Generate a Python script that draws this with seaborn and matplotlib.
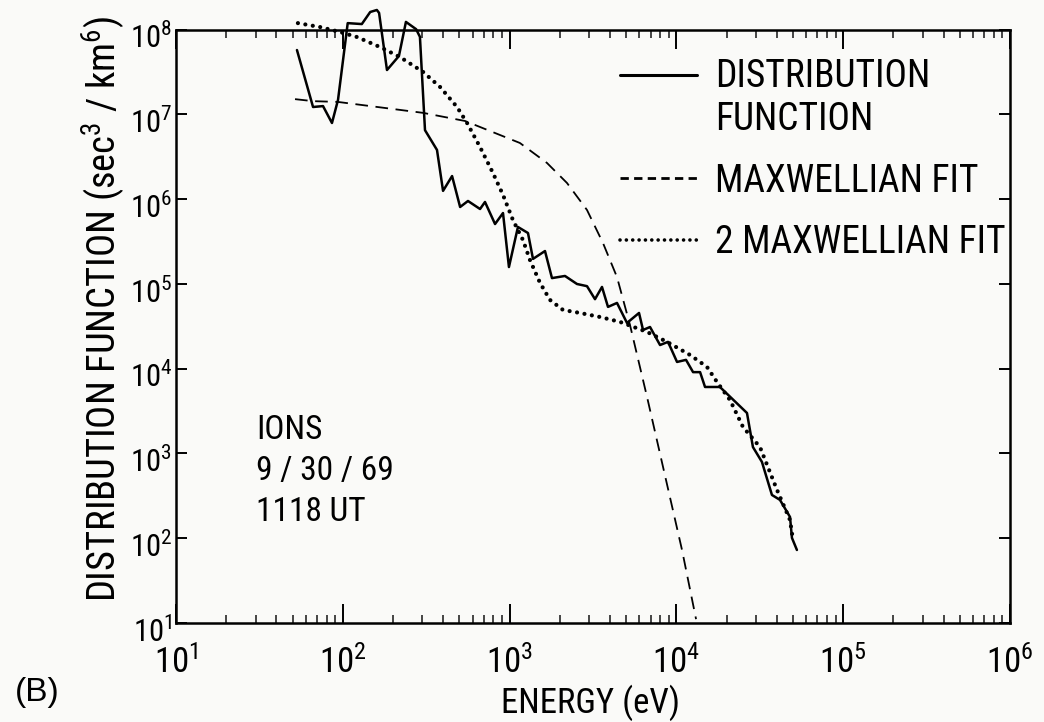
import numpy as np
import pandas as pd
import matplotlib
matplotlib.use('Agg')
import matplotlib.pyplot as plt
import matplotlib.transforms as mtransforms
from matplotlib import font_manager as fm
from matplotlib.lines import Line2D
from matplotlib.legend_handler import HandlerLine2D
from matplotlib.ticker import FixedLocator, NullLocator, LogFormatterMathtext
import seaborn as sns

# ---------------- data ----------------
dist_energy = [53.1, 66.3, 76.1, 86.1, 93.6, 107, 130, 146, 160, 165, 184, 217, 239, 275,
               290, 311, 367, 399, 452, 505, 563, 665, 712, 818, 913, 991, 1122, 1289,
               1381, 1630, 1795, 2148, 2535, 2911, 3251, 3581, 3890, 4405, 5057, 5970,
               6310, 6950, 7980, 8910, 10090, 11420, 12590, 13870, 14850, 18240, 26500,
               28770, 32580, 37400, 41800, 48000, 49300, 52800]
dist_value = [5.73e7, 1.22e7, 1.25e7, 7.9e6, 1.48e7, 1.19e8, 1.16e8, 1.61e8, 1.70e8, 1.57e8,
              3.33e7, 4.87e7, 1.23e8, 1.01e8, 8.2e7, 6.5e6, 3.8e6, 1.25e6, 1.87e6, 8.07e5,
              9.5e5, 7.64e5, 9.25e5, 5.08e5, 6.85e5, 1.58e5, 4.69e5, 3.98e5, 1.97e5, 2.44e5,
              1.17e5, 1.24e5, 9.97e4, 9.4e4, 6.6e4, 9.2e4, 5.35e4, 5.96e4, 3.46e4, 4.54e4,
              2.86e4, 3.1e4, 1.9e4, 2.07e4, 1.2e4, 1.27e4, 9.1e3, 9.1e3, 6.08e3, 6.08e3,
              3.0e3, 1.19e3, 794, 324, 283, 178, 101, 72.7]

maxw_energy = [51.7, 66.2, 93.5, 303, 541, 1153, 1675, 2208, 2911, 3631, 4406, 5271,
               6670, 8318, 10810, 13120]
maxw_value = [1.51e7, 1.43e7, 1.40e7, 1.04e7, 8.34e6, 4.59e6, 2.67e6, 1.55e6, 7.44e5,
              3.03e5, 1.2e5, 3.27e4, 4.63e3, 692, 72.6, 11.1]

two_maxw_energy = [53.8, 73.0, 96.2, 121.6, 167, 220, 303, 383, 484, 556, 665, 795, 913,
                   1047, 1202, 1325, 1521, 1746, 2089, 2642, 3483, 4592, 6670, 8790,
                   12080, 15250, 17510, 20960, 25080, 31700, 40100, 48000, 50000]
two_maxw_value = [1.19e8, 1.07e8, 9.35e7, 8.16e7, 6.22e7, 4.74e7, 3.16e7, 2.1e7, 1.22e7,
                  7.9e6, 4.11e6, 2.03e6, 1.12e6, 5.66e5, 3.3e5, 1.91e5, 1.03e5, 6.47e4,
                  4.93e4, 4.54e4, 4.07e4, 3.56e4, 2.71e4, 2.07e4, 1.45e4, 1.05e4, 6.97e3,
                  4.27e3, 2.05e3, 1.19e3, 372, 164, 95.5]

x_major_ticks = [1e1, 1e2, 1e3, 1e4, 1e5, 1e6]
y_major_ticks = [1e1, 1e2, 1e3, 1e4, 1e5, 1e6, 1e7, 1e8]
legend_labels = ["DISTRIBUTION\nFUNCTION", "MAXWELLIAN FIT", "2 MAXWELLIAN FIT"]
annotation = "IONS\n9 / 30 / 69\n1118 UT"
panel_label = "(B)"
x_label = "ENERGY (eV)"
y_label = r"DISTRIBUTION FUNCTION (sec$^{\mathdefault{3}}$ / km$^{\mathdefault{6}}$)"
x_limits = (1e1, 1e6)
y_limits = (1e1, 1e8)


# ---------------- pick a narrow sans font if one is installed ----------------
def pick_font():
    entries = fm.fontManager.ttflist
    names = {f.name for f in entries}
    for p in ['Liberation Sans Narrow', 'Roboto Condensed', 'DejaVu Sans Condensed',
              'Noto Sans Condensed', 'Open Sans Condensed', 'Arimo Narrow']:
        if p in names:
            return p, 'normal'
    for base in ['DejaVu Sans', 'Roboto', 'Noto Sans', 'Open Sans']:
        for f in entries:
            if (f.name == base and f.style == 'normal'
                    and str(f.stretch) in ('condensed', 'semi-condensed')
                    and f.weight in (400, 'normal', 'regular')):
                return base, str(f.stretch)
    for f in entries:
        if (('Condensed' in f.name or 'Narrow' in f.name) and 'Sans' in f.name
                and 'Mono' not in f.name and f.style == 'normal'):
            return f.name, 'normal'
    return 'DejaVu Sans', 'normal'


FAM, STRETCH = pick_font()

sns.set_theme(style='ticks')
plt.rcParams['font.family'] = [FAM, 'DejaVu Sans']
plt.rcParams['font.stretch'] = STRETCH
plt.rcParams['mathtext.fontset'] = 'dejavusans'
bg = '#fafaf8'

fig = plt.figure(figsize=(10.44, 7.22), dpi=100, facecolor=bg)
ax = fig.add_axes([0.1686, 0.1371, 0.7988, 0.822])
ax.set_facecolor(bg)
ax.set_xscale('log')
ax.set_yscale('log')

df_dist = pd.DataFrame({'energy': dist_energy, 'f': dist_value})
df_maxw = pd.DataFrame({'energy': maxw_energy, 'f': maxw_value})
df_two = pd.DataFrame({'energy': two_maxw_energy, 'f': two_maxw_value})

sns.lineplot(data=df_dist, x='energy', y='f', ax=ax, color='black', estimator=None,
             sort=False, linewidth=1.8)
l_dist = ax.lines[-1]
sns.lineplot(data=df_maxw, x='energy', y='f', ax=ax, color='black', estimator=None,
             sort=False, linewidth=1.3)
l_maxw = ax.lines[-1]
l_maxw.set_linestyle((0, (7.0, 4.2)))
sns.lineplot(data=df_two, x='energy', y='f', ax=ax, color='black', estimator=None,
             sort=False, linewidth=3.0)
l_two = ax.lines[-1]
l_two.set_linestyle((0, (0.01, 1.8)))
l_two.set_dash_capstyle('round')
for ln in (l_dist, l_maxw, l_two):
    ln.set_clip_on(False)

ax.set_xlim(*x_limits)
ax.set_ylim(*y_limits)

# ticks (only inside the plotted range)
x_minor_ticks = [m * t for t in x_major_ticks[:-1] for m in range(2, 10)]
ax.xaxis.set_major_locator(FixedLocator(x_major_ticks))
ax.xaxis.set_minor_locator(FixedLocator(x_minor_ticks))
ax.yaxis.set_major_locator(FixedLocator(y_major_ticks))
ax.yaxis.set_minor_locator(NullLocator())
ax.xaxis.set_major_formatter(LogFormatterMathtext())
ax.yaxis.set_major_formatter(LogFormatterMathtext())
ax.tick_params(axis='x', which='major', direction='in', top=True, bottom=True,
               length=14, width=1.4, labelsize=25, pad=16, colors='black')
ax.tick_params(axis='x', which='minor', direction='in', top=True, bottom=True,
               length=6, width=1.2)
ax.tick_params(axis='y', which='major', direction='in', left=True, right=True,
               length=8, width=1.4, labelsize=22, pad=3, colors='black')
for sp in ax.spines.values():
    sp.set_visible(True)
    sp.set_linewidth(1.8)
    sp.set_color('black')

xl = ax.set_xlabel(x_label, fontsize=25, color='black')
ax.xaxis.set_label_coords(0.497, -0.104)
yl = ax.set_ylabel(y_label, fontsize=28, color='black')
ax.yaxis.set_label_coords(-0.057, 0.529)


# legend: the solid sample sits beside the first line of its two-line label
class HandlerTopLine(HandlerLine2D):
    def __init__(self, shift, **kw):
        super().__init__(**kw)
        self.shift = shift

    def create_artists(self, legend, orig_handle, xdescent, ydescent, width, height,
                       fontsize, trans):
        arts = super().create_artists(legend, orig_handle, xdescent, ydescent, width,
                                      height, fontsize, trans)
        for a in arts:
            a.set_ydata(np.asarray(a.get_ydata(), dtype=float) + self.shift * fontsize)
        return arts


h_solid = Line2D([], [], color='black', lw=2.2)
h_dash = Line2D([], [], color='black', lw=2.0, linestyle=(0, (3.0, 1.9)))
h_dot = Line2D([], [], color='black', lw=2.6, linestyle=(0, (0.01, 1.75)),
               dash_capstyle='round')
leg = ax.legend([h_solid, h_dash, h_dot], legend_labels, loc='upper left',
                bbox_to_anchor=(0.532, 0.952), frameon=False, fontsize=27,
                handlelength=2.05, handletextpad=0.5, labelspacing=0.66, borderpad=0,
                borderaxespad=0, handler_map={h_solid: HandlerTopLine(0.66)})
for t in leg.get_texts():
    t.set_color('black')
    t.set_linespacing(1.2)

ann = ax.text(0.096, 0.352, annotation, transform=ax.transAxes, fontsize=24, va='top',
              ha='left', linespacing=1.35, color='black')
fig.text(0.036, 1 - 692 / 722, panel_label, fontsize=24, ha='center', va='center',
         family=['Liberation Sans', 'DejaVu Sans'], color='black')

# ---- keep text widths within the reference widths (px) ----
fig.canvas.draw()
r = fig.canvas.get_renderer()


def fit(text, target_w, horizontal=True):
    bb = text.get_window_extent(r)
    w = bb.width if horizontal else bb.height
    if w > target_w:
        text.set_fontsize(text.get_fontsize() * target_w / w)


fit(xl, 186)
fit(yl, 586, horizontal=False)
longest = leg.get_texts()[2]
bb = longest.get_window_extent(r)
if bb.width > 292:
    s = longest.get_fontsize() * 292 / bb.width
    for t in leg.get_texts():
        t.set_fontsize(s)

fig.canvas.draw()
dy = mtransforms.ScaledTranslation(0, -6 / 100, fig.dpi_scale_trans)
for tk in ax.yaxis.get_major_ticks():
    tk.label1.set_transform(tk.label1.get_transform() + dy)

fig.savefig('out.png', dpi=100, facecolor=bg)
